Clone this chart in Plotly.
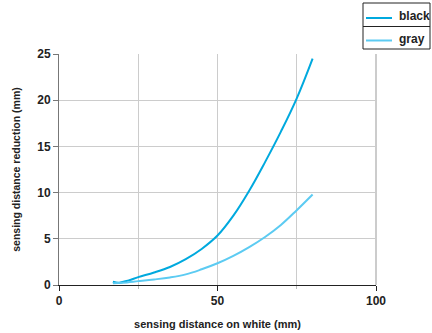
import plotly.graph_objects as go

x_black = [17, 19, 22, 25, 30, 35, 40, 45, 50, 55, 60, 65, 70, 75, 80]
y_black = [0.35, 0.25, 0.5, 0.85, 1.35, 1.95, 2.8, 3.9, 5.35, 7.5, 10.2, 13.3, 16.6, 20.2, 24.5]

x_gray = [17, 20, 25, 30, 35, 40, 45, 50, 55, 60, 65, 70, 75, 80]
y_gray = [0.2, 0.25, 0.42, 0.6, 0.82, 1.15, 1.7, 2.35, 3.15, 4.1, 5.2, 6.5, 8.1, 9.8]

series_names = ["black", "gray"]
series_colors = ["#00a9de", "#5ccbf2"]

x_ticks = [0, 50, 100]
y_ticks = [0, 5, 10, 15, 20, 25]

FONT = "Liberation Sans"
TXT = "#222222"

fig = go.Figure()
for xs, ys, nm, col in [(x_black, y_black, series_names[0], series_colors[0]),
                        (x_gray, y_gray, series_names[1], series_colors[1])]:
    fig.add_trace(go.Scatter(x=xs, y=ys, mode="lines", name=nm, showlegend=False,
                             hoverinfo="skip",
                             line=dict(color=col, width=2, shape="spline", smoothing=1.1)))

fig.update_layout(
    width=432, height=333,
    margin=dict(l=59, r=56, t=54, b=48, autoexpand=False),
    plot_bgcolor="white", paper_bgcolor="white",
    font=dict(family=FONT, color=TXT, size=12, weight=700),
    showlegend=False,
    xaxis=dict(range=[0, 100], tickvals=x_ticks, ticks="outside", ticklen=5,
               tickcolor="#222222", showline=True, linecolor="#222222", linewidth=1,
               showgrid=True, gridcolor="#cccccc", gridwidth=1, zeroline=False,
               minor=dict(tickvals=[25, 75], showgrid=True, gridcolor="#cccccc",
                          ticks="outside", ticklen=3, tickcolor="#bbbbbb"),
               title=dict(text="sensing distance on white (mm)",
                          font=dict(size=11, family=FONT, color=TXT, weight=700), standoff=12),
               tickfont=dict(size=12, family=FONT, color=TXT, weight=700)),
    yaxis=dict(range=[0, 25], tickvals=y_ticks, ticks="outside", ticklen=5,
               tickcolor="#777777", showline=True, linecolor="#777777", linewidth=1,
               showgrid=True, gridcolor="#cccccc", gridwidth=1, zeroline=False,
               title=dict(text="sensing distance reduction (mm)",
                          font=dict(size=10.5, family=FONT, color=TXT, weight=700), standoff=14),
               tickfont=dict(size=12, family=FONT, color=TXT, weight=700)),
)
fig.add_shape(type="line", xref="paper", yref="paper", x0=1, x1=1, y0=0, y1=1,
              line=dict(color="#bbbbbb", width=1.5), layer="below")

# manual legend (plot area: x 59..376 px, y 54..285 px)
def px_x(p):
    return (p - 59) / 317.0

def px_y(p):
    return (285 - p) / 231.0

fig.add_shape(type="rect", xref="paper", yref="paper",
              x0=px_x(363), x1=px_x(430), y0=px_y(49), y1=px_y(3),
              line=dict(color="#222222", width=1), fillcolor="white")
fig.add_shape(type="line", xref="paper", yref="paper",
              x0=px_x(363), x1=px_x(430), y0=px_y(26.5), y1=px_y(26.5),
              line=dict(color="#222222", width=1))
for i, (nm, col) in enumerate(zip(series_names, series_colors)):
    cy = 18 + i * 22.5
    fig.add_shape(type="line", xref="paper", yref="paper",
                  x0=px_x(366), x1=px_x(392), y0=px_y(cy), y1=px_y(cy),
                  line=dict(color=col, width=2))
    fig.add_annotation(xref="paper", yref="paper", x=px_x(397), y=px_y(cy - 1.5),
                       xanchor="left", yanchor="middle", text=nm, showarrow=False,
                       font=dict(size=12, family=FONT, color=TXT, weight=700))

fig.write_html("out.html", config={"displayModeBar": False, "staticPlot": True},
               post_script="document.body.style.margin='0';")
